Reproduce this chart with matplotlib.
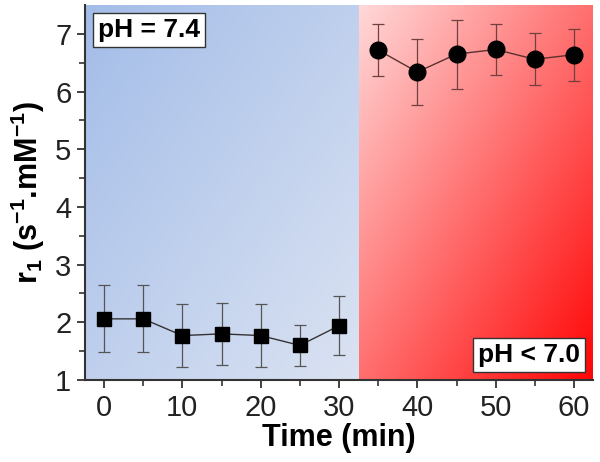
import numpy as np
import matplotlib
matplotlib.use("Agg")
import matplotlib.pyplot as plt

plt.rcParams['font.family'] = ['Liberation Sans', 'DejaVu Sans']
plt.rcParams['mathtext.fontset'] = 'custom'
plt.rcParams['mathtext.bf'] = 'Liberation Sans:bold'
plt.rcParams['mathtext.rm'] = 'Liberation Sans'
plt.rcParams['mathtext.default'] = 'bf'

# data
t_neutral = [0, 5, 10, 15, 20, 25, 30]
r1_neutral = [2.06, 2.06, 1.77, 1.80, 1.77, 1.60, 1.94]
err_neutral = [0.58, 0.58, 0.54, 0.54, 0.54, 0.36, 0.51]

t_acid = [35, 40, 45, 50, 55, 60]
r1_acid = [6.72, 6.34, 6.65, 6.73, 6.56, 6.64]
err_acid = [0.45, 0.58, 0.60, 0.45, 0.45, 0.45]

x_ticks = [0, 10, 20, 30, 40, 50, 60]
y_ticks = [1, 2, 3, 4, 5, 6, 7]

xmin, xmax = -2.4, 62.4
ymin, ymax = 1, 7.5
split = 32.6


def gradient(c0, c1, n=200):
    # diagonal gradient, top-left c0 -> bottom-right c1
    u = np.linspace(0, 1, n)[None, :]
    v = np.linspace(0, 1, n)[:, None]
    f = ((u + v) / 2)[..., None]
    return np.array(c0) * (1 - f) + np.array(c1) * f


fig = plt.figure(figsize=(6, 4.62), dpi=100)
ax = fig.add_axes([0.142, 0.1775, 0.846, 0.8115])

ax.imshow(gradient((0.64, 0.74, 0.91), (0.86, 0.89, 0.95)),
          extent=[xmin, split, ymin, ymax], aspect='auto', zorder=0, interpolation='bilinear')
ax.imshow(gradient((1.0, 0.85, 0.85), (1.0, 0.02, 0.02)),
          extent=[split, xmax, ymin, ymax], aspect='auto', zorder=0, interpolation='bilinear')

ax.errorbar(t_neutral, r1_neutral, yerr=err_neutral, color='#333333', lw=1.0,
            ecolor='#555555', elinewidth=0.9, capsize=4, capthick=0.9,
            marker='s', ms=10, mfc='black', mec='black', zorder=3)
ax.errorbar(t_acid, r1_acid, yerr=err_acid, color='#5a3030', lw=1.0,
            ecolor='#704040', elinewidth=0.9, capsize=4, capthick=0.9,
            marker='o', ms=12, mfc='black', mec='black', zorder=3)

ax.set_xlim(xmin, xmax)
ax.set_ylim(ymin, ymax)
ax.set_xticks(x_ticks)
ax.set_yticks(y_ticks)
ax.set_xticks(np.arange(5, 60, 10), minor=True)
ax.set_yticks(np.arange(1.5, 7.5, 1), minor=True)
ax.tick_params(which='major', length=6, width=1.3, labelsize=21, color='#333333',
               labelcolor='#222222', pad=4)
ax.tick_params(which='minor', length=4, width=1.2, color='#333333')
for s in ['top', 'right']:
    ax.spines[s].set_visible(False)
for s in ['left', 'bottom']:
    ax.spines[s].set_linewidth(1.5)
    ax.spines[s].set_color('#333333')

ax.set_xlabel('Time (min)', fontsize=22, fontweight='bold', labelpad=1)
ax.set_ylabel(r'r$_1$ (s$^{-1}$.mM$^{-1}$)', fontsize=22, fontweight='bold', labelpad=6)

box = dict(boxstyle='square,pad=0.2', fc='white', ec='#333333', lw=1.0)
ax.text(0.025, 0.965, 'pH = 7.4', transform=ax.transAxes, fontsize=19,
        fontweight='bold', ha='left', va='top', bbox=box)
ax.text(0.975, 0.035, 'pH < 7.0', transform=ax.transAxes, fontsize=19,
        fontweight='bold', ha='right', va='bottom', bbox=box)

fig.savefig('out.png', dpi=100)
